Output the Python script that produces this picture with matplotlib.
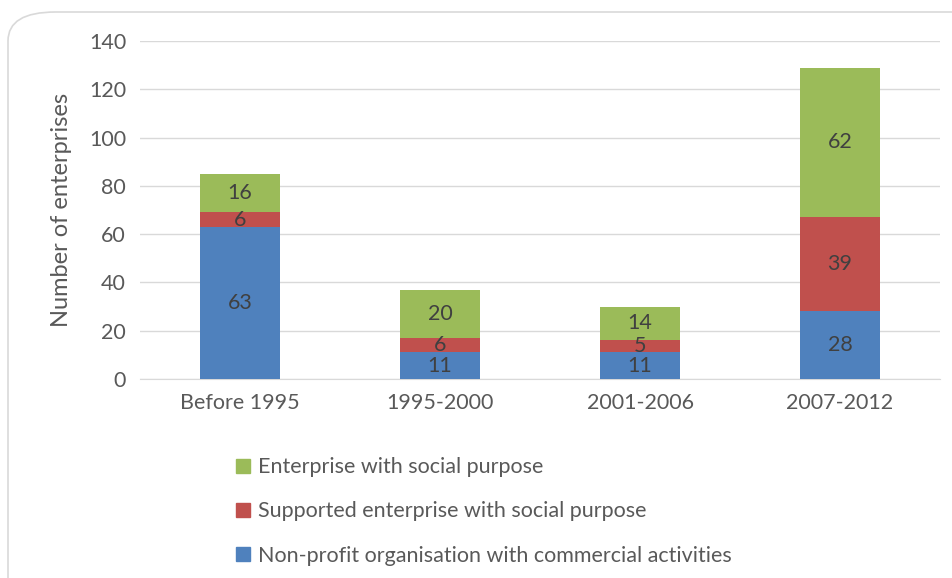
import matplotlib
matplotlib.use("Agg")
import matplotlib.pyplot as plt
from matplotlib.patches import FancyBboxPatch, Patch

categories = ["Before 1995", "1995-2000", "2001-2006", "2007-2012"]
nonprofit = [63, 11, 11, 28]
supported = [6, 6, 5, 39]
social = [16, 20, 14, 62]
series_names = ["Enterprise with social purpose",
                "Supported enterprise with social purpose",
                "Non-profit organisation with commercial activities"]
yticks = [0, 20, 40, 60, 80, 100, 120, 140]

plt.rcParams['font.family'] = ['Lato', 'DejaVu Sans']
c_blue, c_red, c_green = "#4F81BD", "#C0504D", "#9BBB59"
txt = "#595959"
FS = 15.5

fig = plt.figure(figsize=(9.52, 5.78), dpi=100)
W, H = 952, 578
border = FancyBboxPatch((8 / W, -0.2), 1.2, (578 - 12) / H + 0.2,
                        boxstyle="round,pad=0,rounding_size=0.05",
                        transform=fig.transFigure, facecolor="white",
                        edgecolor="#D9D9D9", linewidth=1.2, zorder=-10)
fig.patches.append(border)

ax = fig.add_axes([140 / W, 1 - 379 / H, 800 / W, (379 - 41) / H])
ax.set_zorder(5)
ax.set_facecolor("none")
x = list(range(len(categories)))
bw = 0.4
b1 = ax.bar(x, nonprofit, bw, color=c_blue, zorder=3)
bottom2 = nonprofit
b2 = ax.bar(x, supported, bw, bottom=bottom2, color=c_red, zorder=3)
bottom3 = [a + b for a, b in zip(nonprofit, supported)]
b3 = ax.bar(x, social, bw, bottom=bottom3, color=c_green, zorder=3)

for vals, bots in [(nonprofit, [0] * 4), (supported, bottom2), (social, bottom3)]:
    for xi, v, b in zip(x, vals, bots):
        ax.text(xi, b + v / 2, str(v), ha="center", va="center",
                fontsize=FS, color="#404040", zorder=4)

ax.set_xlim(-0.5, 3.5)
ax.set_ylim(0, 140)
ax.set_yticks(yticks)
ax.set_xticks(x)
ax.set_xticklabels(categories)
ax.grid(axis="y", color="#D9D9D9", linewidth=1, zorder=0)
for s in ["top", "right", "left"]:
    ax.spines[s].set_visible(False)
ax.spines["bottom"].set_color("#D9D9D9")
ax.tick_params(axis="both", length=0, labelsize=FS, colors=txt, pad=10)
ax.tick_params(axis="x", pad=10)
ax.set_ylabel("Number of enterprises", fontsize=17, color=txt, labelpad=12)

handles = [Patch(color=c_green), Patch(color=c_red), Patch(color=c_blue)]
fig.legend(handles, series_names, loc="upper left",
           bbox_to_anchor=(217 / W, 1 - 438 / H), frameon=False,
           fontsize=FS, labelcolor=txt, handlelength=0.65, handleheight=0.65,
           handletextpad=0.35, labelspacing=1.12)

fig.savefig("out.png", dpi=100)
